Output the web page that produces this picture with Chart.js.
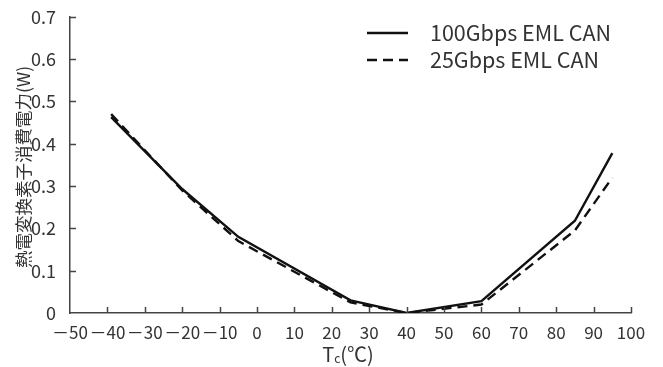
<!DOCTYPE html>
<html>
<head>
<meta charset="utf-8">
<script src="https://cdn.jsdelivr.net/npm/chart.js@4"></script>
<style>
  html, body { margin: 0; padding: 0; background: #fff; }
  #wrap { width: 663px; height: 367px; }
</style>
</head>
<body>
<div id="wrap"><canvas id="chart" width="663" height="367"></canvas></div>
<script>
// data
const seriesNames = ['100Gbps EML CAN', '25Gbps EML CAN'];
const tc100 = [-39, -20, -5, 25, 40, 60, 85, 95];
const power100 = [0.463, 0.293, 0.18, 0.03, 0, 0.028, 0.218, 0.378];
const tc25 = [-39, -20, -5, 25, 40, 60, 85, 95];
const power25 = [0.47, 0.29, 0.17, 0.025, 0, 0.02, 0.195, 0.32];
const xTicks = [-50, -40, -30, -20, -10, 0, 10, 20, 30, 40, 50, 60, 70, 80, 90, 100];
const yTicks = [0, 0.1, 0.2, 0.3, 0.4, 0.5, 0.6, 0.7];

const FONT = '"Noto Sans CJK JP", "Noto Sans", sans-serif';
const TEXT = '#333';
const AXIS = '#444';

function toPoints(xs, ys) {
    return xs.map((x, i) => ({ x: x, y: ys[i] }));
}

// axis titles, inside ticks and the legend
const decorations = {
    id: 'decorations',
    afterDraw(chart) {
        const ctx = chart.ctx;
        const area = chart.chartArea;
        const xs = chart.scales.x, ys = chart.scales.y;
        ctx.save();
        // inward tick marks
        ctx.strokeStyle = AXIS;
        ctx.lineWidth = 1.5;
        xTicks.slice(1).forEach(v => {
            const px = Math.round(xs.getPixelForValue(v)) + 0.5;
            ctx.beginPath();
            ctx.moveTo(px, area.bottom);
            ctx.lineTo(px, area.bottom - 6);
            ctx.stroke();
        });
        yTicks.slice(1).forEach(v => {
            const py = Math.round(ys.getPixelForValue(v)) + 0.5;
            ctx.beginPath();
            ctx.moveTo(area.left, py);
            ctx.lineTo(area.left + 6, py);
            ctx.stroke();
        });

        // x title: Tc(℃) with subscript c
        ctx.fillStyle = TEXT;
        ctx.textBaseline = 'alphabetic';
        ctx.textAlign = 'left';
        const big = '20px ' + FONT, small = '12px ' + FONT;
        ctx.font = big;
        const wT = ctx.measureText('T').width;
        const wRest = ctx.measureText('(℃)').width;
        ctx.font = small;
        const wc = ctx.measureText('c').width;
        let tx = 348 - (wT + wc + wRest) / 2;
        const base = 362;
        ctx.font = big;
        ctx.fillText('T', tx, base);
        tx += wT;
        ctx.font = small;
        ctx.fillText('c', tx, base + 1);
        tx += wc;
        ctx.font = big;
        ctx.fillText('(℃)', tx, base);

        // y title, rotated
        ctx.save();
        ctx.translate(23, 167);
        ctx.rotate(-Math.PI / 2);
        ctx.textAlign = 'center';
        ctx.textBaseline = 'middle';
        ctx.font = '17.5px ' + FONT;
        ctx.fillText('熱電変換素子消費電力(W)', 0, 0);
        ctx.restore();

        // legend
        const rows = [33, 60];
        chart.data.datasets.forEach((ds, i) => {
            ctx.strokeStyle = ds.borderColor;
            ctx.lineWidth = ds.borderWidth;
            ctx.setLineDash(ds.borderDash || []);
            ctx.beginPath();
            ctx.moveTo(367, rows[i]);
            ctx.lineTo(408, rows[i]);
            ctx.stroke();
            ctx.setLineDash([]);
            ctx.fillStyle = TEXT;
            ctx.font = '21.5px ' + FONT;
            ctx.textAlign = 'left';
            ctx.textBaseline = 'middle';
            ctx.fillText(ds.label, 430, rows[i]);
        });
        ctx.restore();
    }
};

new Chart(document.getElementById('chart'), {
    type: 'line',
    data: {
        datasets: [{
            label: seriesNames[0],
            data: toPoints(tc100, power100),
            borderColor: '#111',
            borderWidth: 2.4,
            pointRadius: 0,
            tension: 0
        }, {
            label: seriesNames[1],
            data: toPoints(tc25, power25),
            borderColor: '#111',
            borderWidth: 2.4,
            borderDash: [10, 6],
            pointRadius: 0,
            tension: 0
        }]
    },
    options: {
        responsive: false,
        animation: false,
        devicePixelRatio: 1,
        layout: { padding: { top: 16, right: 32, left: 0, bottom: 0 } },
        plugins: { legend: { display: false }, tooltip: { enabled: false } },
        scales: {
            x: {
                type: 'linear',
                min: -50, max: 100,
                afterBuildTicks: s => { s.ticks = xTicks.map(v => ({ value: v })); },
                afterFit: s => { s.height = 54; },
                grid: { display: false },
                border: { display: true, color: AXIS, width: 1.5 },
                ticks: {
                    padding: 1,
                    color: TEXT,
                    font: { family: FONT, size: 17 },
                    maxRotation: 0,
                    autoSkip: false,
                    callback: v => v < 0 ? '\uFF0D' + Math.abs(v) : String(v)
                }
            },
            y: {
                min: 0, max: 0.7,
                afterBuildTicks: s => { s.ticks = yTicks.map(v => ({ value: v })); },
                afterFit: s => { s.width = 70; },
                grid: { display: false },
                border: { display: true, color: AXIS, width: 1.5 },
                ticks: {
                    padding: 6,
                    color: TEXT,
                    font: { family: FONT, size: 18 },
                    callback: v => v === 0 ? '0' : v.toFixed(1)
                }
            }
        }
    },
    plugins: [decorations]
});
</script>
</body>
</html>
